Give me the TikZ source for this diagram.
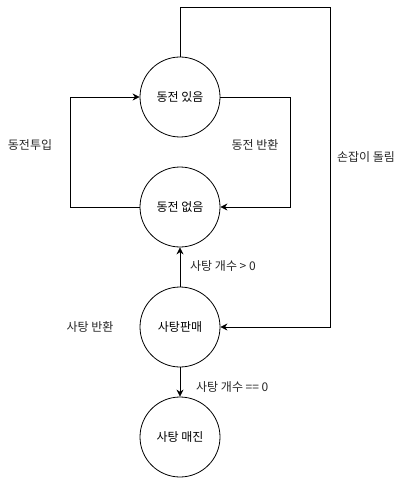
\documentclass[tikz,border=0pt]{standalone}
\usepackage{fontspec}
\setmainfont{Noto Sans CJK KR}
\usetikzlibrary{arrows.meta}
\begin{document}
\begin{tikzpicture}[x=1pt,y=-1pt,
  state/.style={draw,circle,minimum size=80pt,inner sep=0pt,line width=0.8pt,font=\fontsize{12}{14}\selectfont},
  edge/.style={draw,line width=0.8pt,-{Stealth[length=7pt,width=7pt]}},
  lbl/.style={font=\fontsize{12}{14}\selectfont,text=black!85,inner sep=0pt}]
\useasboundingbox (0,0) rectangle (406,478);
\node[state] (has)  at (180,97)  {동전 있음};
\node[state] (none) at (180,207) {동전 없음};
\node[state] (sell) at (180,327) {사탕판매};
\node[state] (out)  at (180,437) {사탕 매진};
% coin inserted: left loop
\draw[edge] (none.west) -- (70,207) -- (70,97) -- (has.west);
% coin returned: right loop
\draw[edge] (has.east) -- (290,97) -- (290,207) -- (none.east);
% handle turned: outer loop
\draw[edge] (has.north) -- (180,7) -- (330,7) -- (330,327) -- (sell.east);
\draw[edge] (sell.north) -- (none.south);
\draw[edge] (sell.south) -- (out.north);
\node[lbl] (l1) at (30,145) {동전투입};
\node[lbl] (l2) at (255,145) {동전 반환};
\node[lbl] (l3) at (366,157) {손잡이 돌림};
\node[lbl,anchor=west] (l4) at (190,266) {사탕 개수 > 0};
\node[lbl] (l5) at (90,327) {사탕 반환};
\node[lbl,anchor=west] (l6) at (196,387) {사탕 개수 == 0};
\end{tikzpicture}
\end{document}
